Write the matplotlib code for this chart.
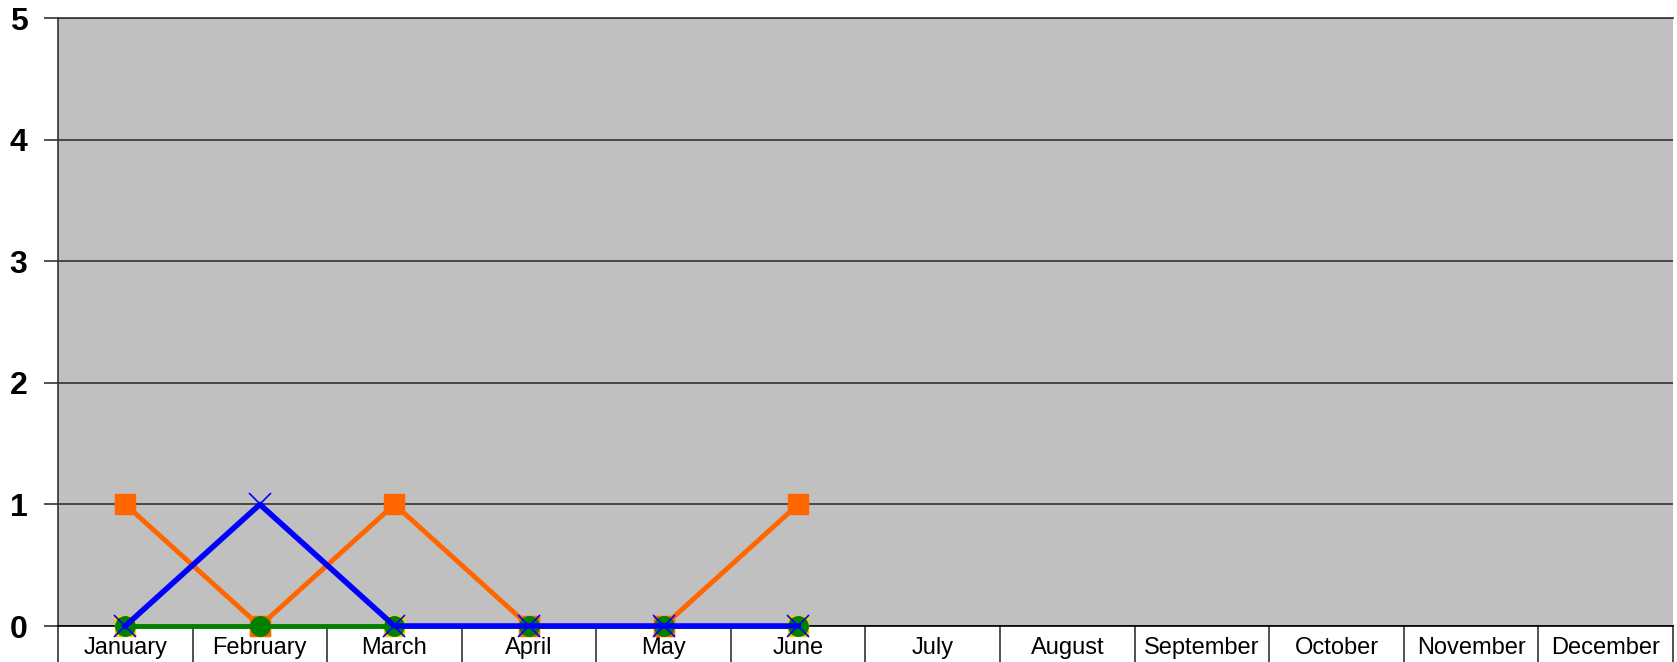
import matplotlib.pyplot as plt
import matplotlib.transforms as mtransforms

plt.rcParams['font.family'] = ['Liberation Sans', 'DejaVu Sans']

months = ['January', 'February', 'March', 'April', 'May', 'June',
          'July', 'August', 'September', 'October', 'November', 'December']
# only the first six months have data
yellow_vals = [0, 0, 0, 0, 0, 0]
orange_vals = [1, 0, 1, 0, 0, 1]
green_vals = [0, 0, 0, 0, 0, 0]
blue_vals = [0, 1, 0, 0, 0, 0]
y_ticks = [0, 1, 2, 3, 4, 5]

fig = plt.figure(figsize=(16.77, 6.62), dpi=100)
ax = fig.add_axes([58 / 1677, 36 / 662, (1673 - 58) / 1677, (626 - 18) / 662])
ax.set_facecolor('#c0c0c0')

x = list(range(len(months)))
xd = x[:len(orange_vals)]

ax.plot(xd, yellow_vals, color='#ffcc00', lw=3.5, marker='s', ms=14,
        zorder=3, clip_on=False)
ax.plot(xd, orange_vals, color='#ff6600', lw=3.5, marker='s', ms=14,
        zorder=4, clip_on=False)
ax.plot(xd, green_vals, color='#008000', lw=3.5, marker='o', ms=14,
        zorder=5, clip_on=False)
ax.plot(xd, blue_vals, color='#0000ff', lw=4, marker='x', ms=16,
        mew=1.2, zorder=6, clip_on=False)

ax.set_xlim(-0.5, len(months) - 0.5)
ax.set_ylim(0, 5)
ax.set_yticks(y_ticks)
ax.set_yticklabels([str(v) for v in y_ticks], fontsize=23, fontweight='bold')
ax.tick_params(axis='y', length=10, width=1.2, color='#333333', pad=12)
ax.yaxis.grid(True, color='#333333', lw=1.2)
ax.set_axisbelow(True)

ax.set_xticks(x)
ax.set_xticklabels(months, fontsize=17)
ax.tick_params(axis='x', length=0, pad=8)

for s in ['left', 'top']:
    ax.spines[s].set_color('#333333')
    ax.spines[s].set_linewidth(1.2)
ax.spines['right'].set_visible(False)
ax.spines['bottom'].set_color('black')
ax.spines['bottom'].set_linewidth(1.2)

# category separators under the plot
trans = mtransforms.blended_transform_factory(ax.transData, ax.transAxes)
for b in range(len(months) + 1):
    ax.plot([b - 0.5, b - 0.5], [0, -0.07], transform=trans, color='#333333',
            lw=1.2, clip_on=False)

fig.savefig('out.png', dpi=100)
